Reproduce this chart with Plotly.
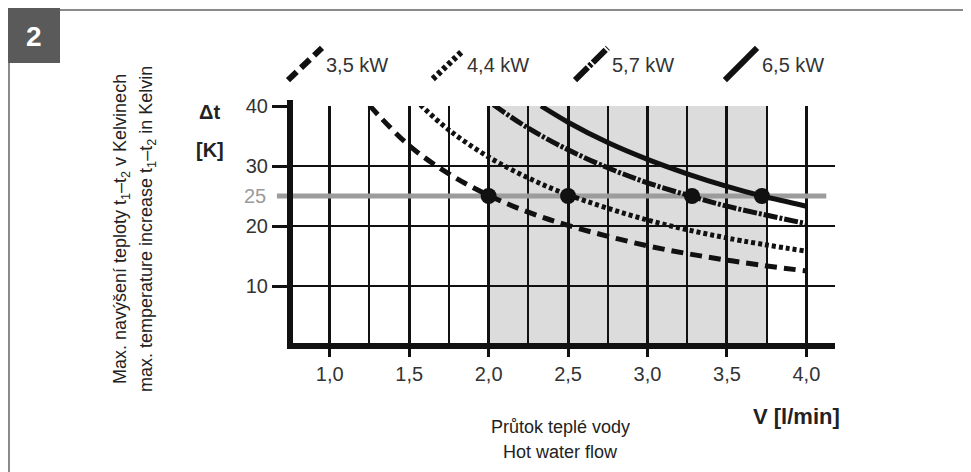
import plotly.graph_objects as go

# ---------------- data ----------------
flow_35 = [1.25, 1.5, 1.75, 2.0, 2.25, 2.5, 3.0, 3.5, 4.0]
dt_35 = [40.1, 33.4, 28.7, 25.1, 22.3, 20.1, 16.7, 14.3, 12.5]
flow_44 = [1.57, 1.75, 2.0, 2.25, 2.5, 3.0, 3.5, 4.0]
dt_44 = [40.2, 36.0, 31.5, 28.0, 25.2, 21.0, 18.0, 15.8]
flow_57 = [2.03, 2.25, 2.5, 2.75, 3.0, 3.27, 3.5, 4.0]
dt_57 = [40.2, 36.3, 32.7, 29.7, 27.2, 25.0, 23.3, 20.4]
flow_65 = [2.33, 2.5, 2.75, 3.0, 3.25, 3.5, 3.72, 4.0]
dt_65 = [40.0, 37.3, 33.9, 31.1, 28.7, 26.6, 25.0, 23.3]

dot_flow = [2.0, 2.5, 3.28, 3.72]
dot_dt = [25, 25, 25, 25]

series_names = ["3,5 kW", "4,4 kW", "5,7 kW", "6,5 kW"]
x_tickvals = [1.0, 1.5, 2.0, 2.5, 3.0, 3.5, 4.0]
x_ticktext = ["1,0", "1,5", "2,0", "2,5", "3,0", "3,5", "4,0"]
x_minorvals = [0.75, 1.25, 1.75, 2.25, 2.75, 3.25, 3.75]
y_tickvals = [10, 20, 30, 40]
y_ticktext = ["10", "20", "30", "40"]
ref_dt = 25
shade_flow = [2.0, 3.75]

FONT = "Liberation Sans, Arial, sans-serif"
BLACK = "#111111"

dashes = ["12px,7px", "4px,3px", "14px,2px,3px,2px", "solid"]

fig = go.Figure()

# reference line at 25 K (drawn first so curves sit on top)
fig.add_trace(go.Scatter(x=[0.75, 4.125], y=[ref_dt, ref_dt], mode="lines",
                         line=dict(color="#9c9c9c", width=5), hoverinfo="skip",
                         showlegend=False))

curves = [(flow_35, dt_35), (flow_44, dt_44), (flow_57, dt_57), (flow_65, dt_65)]
for (fx, fy), name, d in zip(curves, series_names, dashes):
    fig.add_trace(go.Scatter(x=fx, y=fy, mode="lines", name=name,
                             line=dict(color=BLACK, width=5, dash=d, shape="spline"),
                             showlegend=False))

fig.add_trace(go.Scatter(x=dot_flow, y=dot_dt, mode="markers",
                         marker=dict(color=BLACK, size=16), showlegend=False))

shapes = []
# shaded flow range
shapes.append(dict(type="rect", xref="x", yref="y", x0=shade_flow[0], x1=shade_flow[1],
                   y0=0, y1=40, fillcolor="#dcdcdc", line=dict(width=0), layer="below"))
# small part of reference line left of the axis
shapes.append(dict(type="line", xref="paper", yref="y", x0=-0.024, x1=0, y0=ref_dt, y1=ref_dt,
                   line=dict(color="#9c9c9c", width=5)))
# axis lines
shapes.append(dict(type="line", xref="paper", yref="paper", x0=0, x1=0, y0=-0.0125, y1=1.025,
                   line=dict(color=BLACK, width=6)))
shapes.append(dict(type="line", xref="paper", yref="paper", x0=-0.0055, x1=1.0, y0=0, y1=0,
                   line=dict(color=BLACK, width=6)))
# frame
shapes.append(dict(type="line", xref="paper", yref="paper", x0=-0.5156, x1=1.3, y0=1.4, y1=1.4,
                   line=dict(color="#8a8a8a", width=2)))
shapes.append(dict(type="line", xref="paper", yref="paper", x0=-0.5156, x1=-0.5156, y0=1.4, y1=-0.6,
                   line=dict(color="#8a8a8a", width=2)))
shapes.append(dict(type="rect", xref="paper", yref="paper", x0=-0.5174, x1=-0.422, y0=1.179, y1=1.41,
                   fillcolor="#5a5a5a", line=dict(width=0)))

# custom legend symbols (diagonal strokes)
leg_sym = [(-0.0037, 0.0587, 1.108, 1.242), (0.262, 0.316, 1.1125, 1.228),
           (0.523, 0.583, 1.108, 1.242), (0.798, 0.857, 1.108, 1.242)]
leg_dash = ["12px,6px", "4px,3px", "18px,2px,3px,2px", "solid"]
for (x0, x1, y0, y1), d in zip(leg_sym, leg_dash):
    shapes.append(dict(type="line", xref="paper", yref="paper", x0=x0, x1=x1, y0=y0, y1=y1,
                       line=dict(color=BLACK, width=6, dash=d)))


def note(x, y, text, size, color="#222222", xanchor="center", yref="paper", angle=0):
    return dict(xref="paper", yref=yref, x=x, y=y, text=text, showarrow=False,
                xanchor=xanchor, yanchor="middle", textangle=angle,
                font=dict(family=FONT, size=size, color=color))


annotations = []
leg_text_x = [0.0624, 0.321, 0.587, 0.862]
for name, xt in zip(series_names, leg_text_x):
    annotations.append(note(xt, 1.171, name, 20, "#333333", xanchor="left"))

annotations += [
    note(-0.0404, ref_dt, "25", 20, "#9a9a9a", xanchor="right", yref="y"),
    note(-0.1468, 0.975, "<b>Δt</b>", 20),
    note(-0.1468, 0.817, "<b>[K]</b>", 20),
    note(0.930, -0.2917, "<b>V [l/min]</b>", 22),
    note(0.497, -0.3375, "Průtok teplé vody", 18),
    note(0.497, -0.4417, "Hot water flow", 18),
    note(-0.310, 0.4875, "Max. navýšení teploty t<sub>1</sub>–t<sub>2</sub> v Kelvinech", 18, angle=-90),
    note(-0.2624, 0.4875, "max. temperature increase t<sub>1</sub>–t<sub>2</sub> in Kelvin", 18, angle=-90),
    note(-0.4706, 1.2895, "<b>2</b>", 28, "white"),
]

fig.update_layout(
    width=963, height=464,
    margin=dict(l=282, r=136, t=98, b=126),
    paper_bgcolor="white", plot_bgcolor="white",
    showlegend=False,
    shapes=shapes, annotations=annotations,
    xaxis=dict(range=[0.75, 4.18], tickmode="array", tickvals=x_tickvals, ticktext=x_ticktext,
               ticks="outside", ticklen=10, tickwidth=3, tickcolor=BLACK,
               showgrid=True, gridcolor=BLACK, gridwidth=2.5, zeroline=False, showline=False,
               minor=dict(tickmode="array", tickvals=x_minorvals,
                          showgrid=True, gridcolor=BLACK, gridwidth=2, ticks=""),
               tickfont=dict(family=FONT, size=20, color="#333333")),
    yaxis=dict(range=[0, 40], tickmode="array", tickvals=y_tickvals, ticktext=y_ticktext,
               ticks="outside", ticklen=17, tickwidth=3, tickcolor=BLACK,
               showgrid=True, gridcolor=BLACK, gridwidth=2, zeroline=False, showline=False,
               tickfont=dict(family=FONT, size=20, color="#333333")),
)

fig.write_html("out.html")
